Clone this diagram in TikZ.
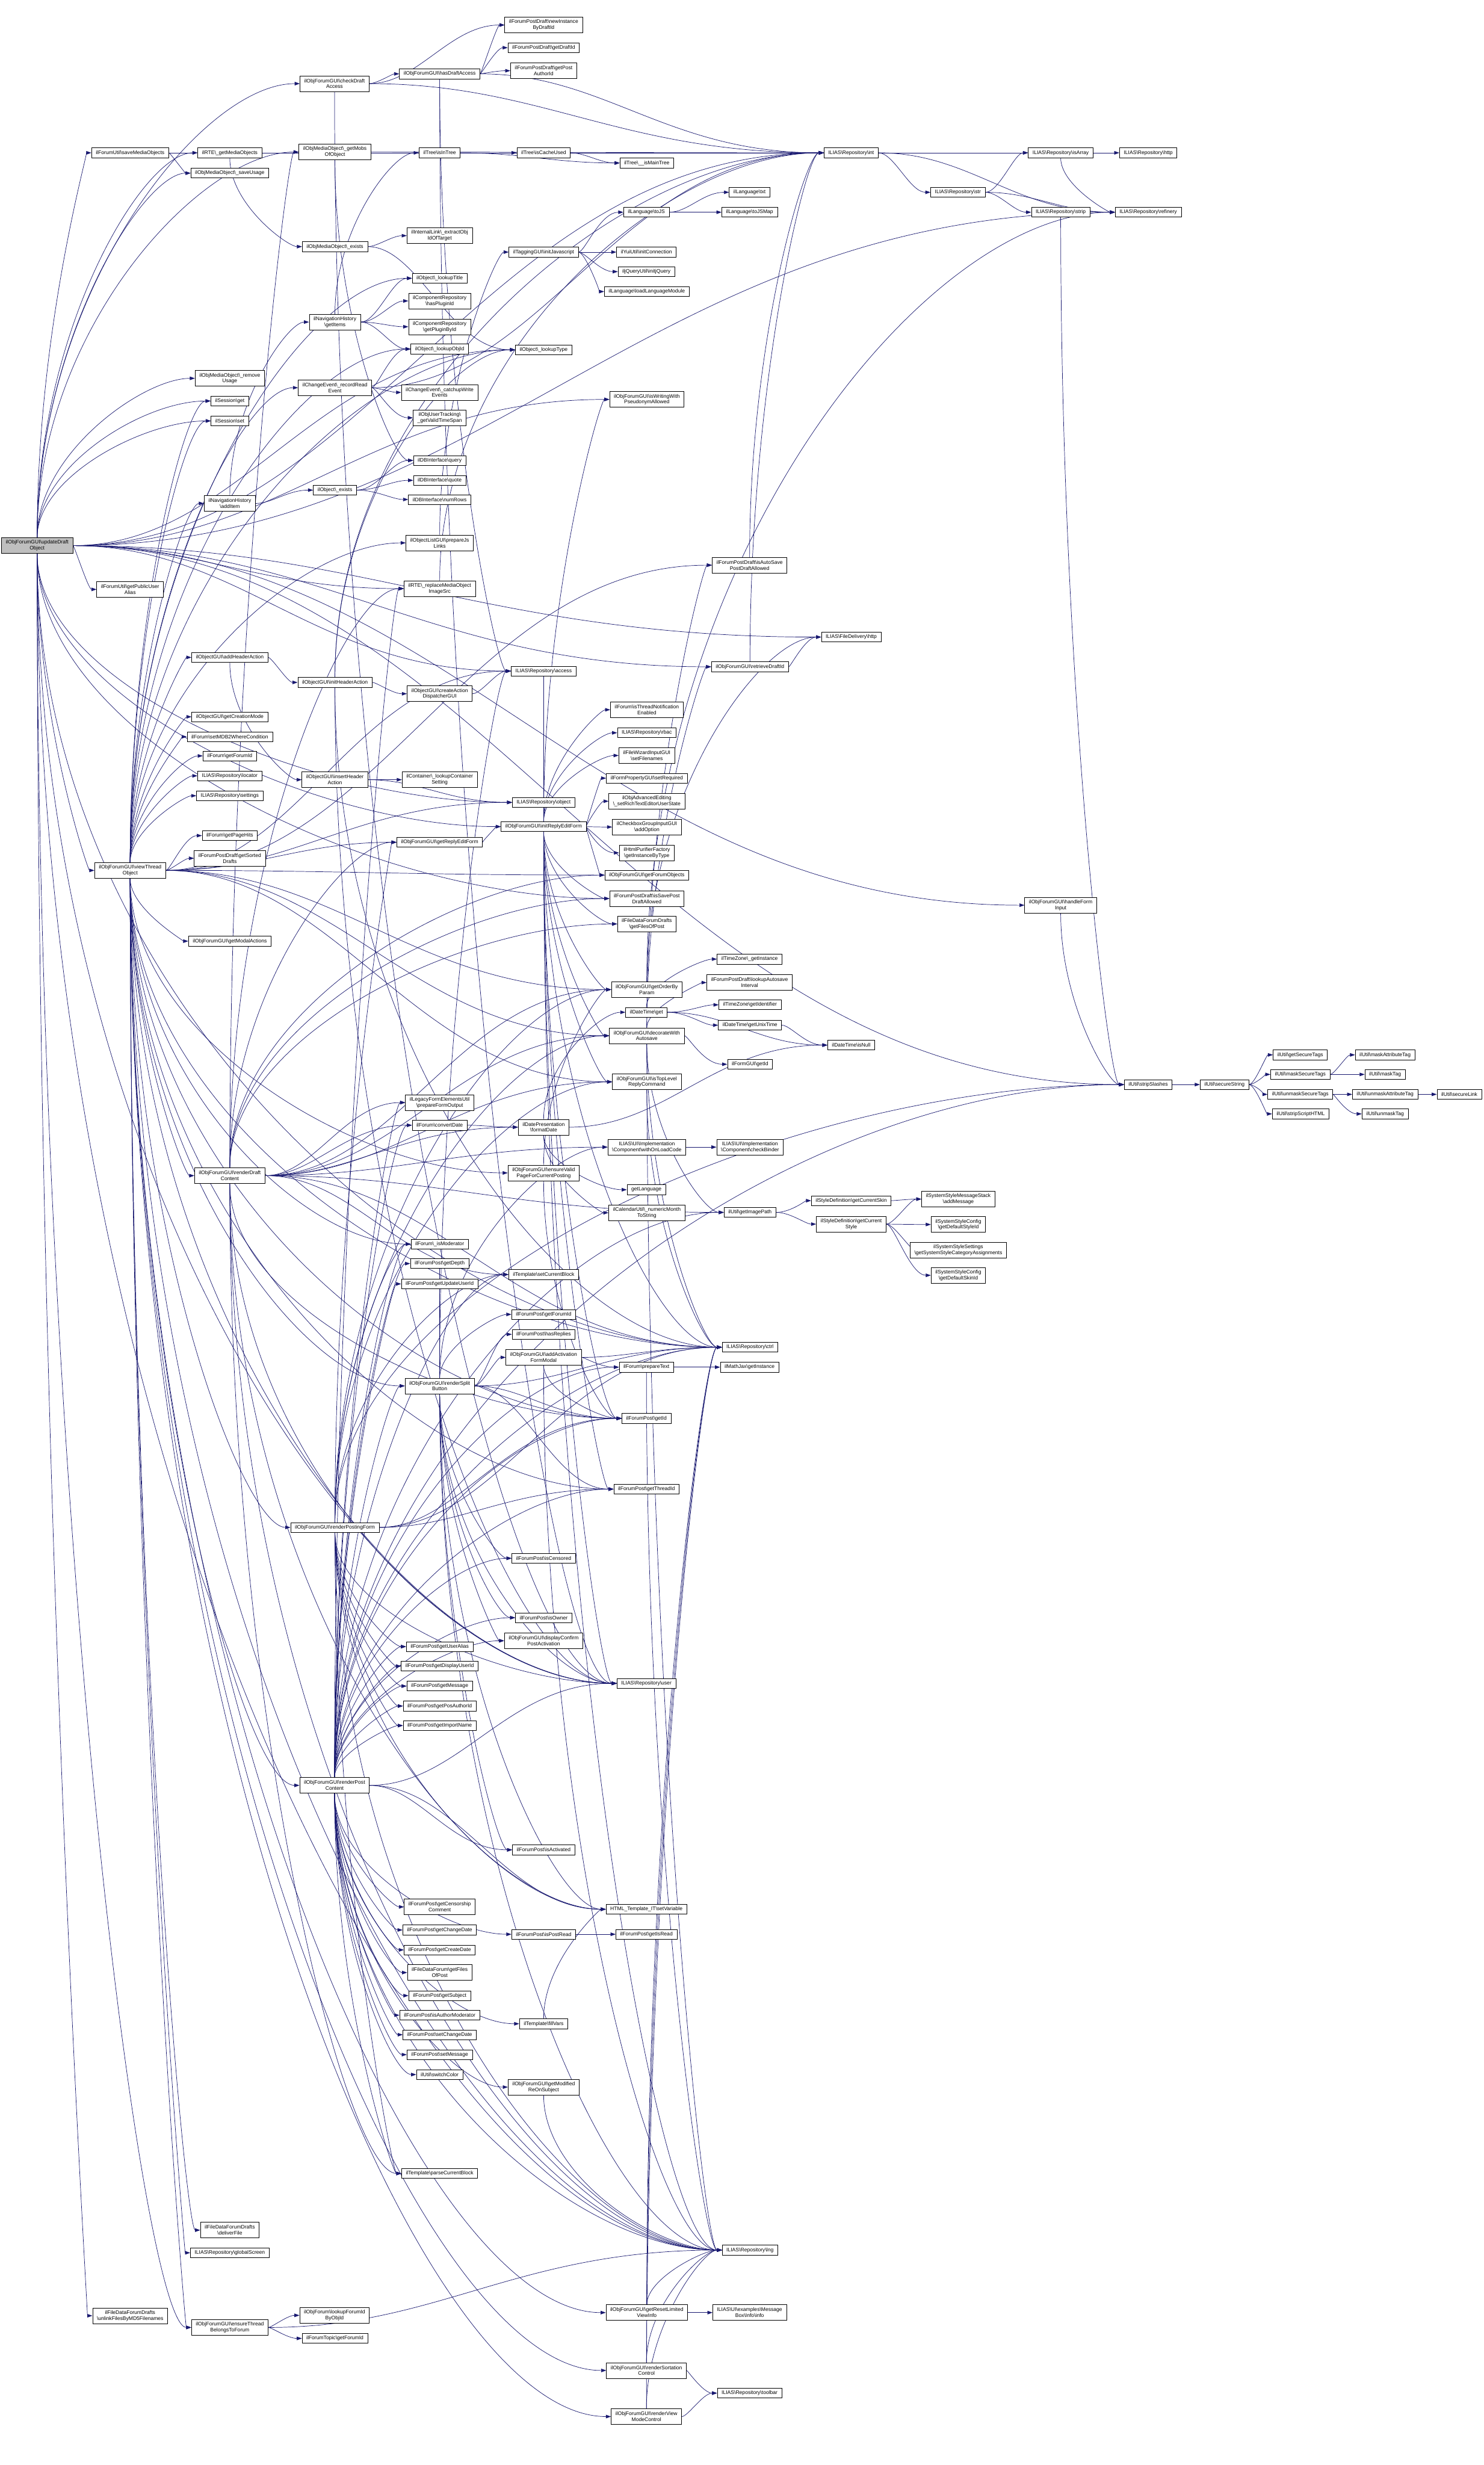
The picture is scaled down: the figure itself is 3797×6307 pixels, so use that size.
\documentclass[tikz,border=0pt]{standalone}
\usepackage{fontspec}
\setmainfont{Liberation Sans}
\usepackage{xcolor}
\usepackage{tikz}
\usetikzlibrary{arrows.meta, backgrounds, calc}
\definecolor{edgeblue}{HTML}{191970}
\definecolor{rootgray}{HTML}{BFBFBF}
\newcommand{\nsep}{\textbackslash}
\tikzset{
  func/.style={rectangle, draw, line width=1.1pt, fill=white, align=center,
               font=\fontsize{13.2}{15}\selectfont, inner xsep=11pt, inner ysep=2pt,
               minimum height=25pt},
  functwo/.style={func, minimum height=40pt},
  focus/.style={functwo, fill=rootgray},
  arr/.style={-{Triangle[length=13pt,width=9pt]}, draw=edgeblue, line width=1.1pt,
    to path={let \p1=(\tikztostart), \p2=(\tikztotarget),
      \n1={abs(\x2-\x1)}, \n2={abs(\y2-\y1)},
      \n3={(\n2>0.5*\n1) ? ((\y2<\y1) ? -90 : 90) : 0},
      \n4={(\n2>0.5*\n1) ? 0.55*\n2 : 0.4*\n1},
      \n5={0.45*\n1}
      in (\tikztostart) .. controls +(\n3:\n4) and +(180:\n5) .. (\tikztotarget)}},
}
\begin{document}
\begin{tikzpicture}[x=1pt, y=-1pt]
  \useasboundingbox (0,0) rectangle (3797,6307);
  % caller on the far left
  \node[focus] (root) at (95,1396) {ilObjForumGUI\nsep updateDraft\\Object};
  % rank 1
  \node[func]    (savemob)    at (333,391)  {ilForumUtil\nsep saveMediaObjects};
  \node[functwo] (pubalias)   at (333,1508) {ilForumUtil\nsep getPublicUser\\Alias};
  \node[functwo] (viewthread) at (333,2227) {ilObjForumGUI\nsep viewThread\\Object};
  \node[functwo] (unlink)     at (333,5925) {ilFileDataForumDrafts\\\nsep unlinkFilesByMD5Filenames};
  % rank 2
  \node[func]    (getmob)      at (588,391)  {ilRTE\nsep\_getMediaObjects};
  \node[func]    (saveusage)   at (588,443)  {ilObjMediaObject\nsep\_saveUsage};
  \node[functwo] (rmusage)     at (588,968)  {ilObjMediaObject\nsep\_remove\\Usage};
  \node[func]    (sessget)     at (588,1026) {ilSession\nsep get};
  \node[func]    (sessset)     at (588,1077) {ilSession\nsep set};
  \node[functwo] (navadd)      at (588,1288) {ilNavigationHistory\\\nsep addItem};
  \node[func]    (addheader)   at (588,1682) {ilObjectGUI\nsep addHeaderAction};
  \node[func]    (creation)    at (588,1834) {ilObjectGUI\nsep getCreationMode};
  \node[func]    (mdb2)        at (588,1885) {ilForum\nsep setMDB2WhereCondition};
  \node[func]    (forumid)     at (588,1934) {ilForum\nsep getForumId};
  \node[func]    (locator)     at (588,1985) {ILIAS\nsep Repository\nsep locator};
  \node[func]    (settings)    at (588,2036) {ILIAS\nsep Repository\nsep settings};
  \node[func]    (pagehits)    at (588,2138) {ilForum\nsep getPageHits};
  \node[functwo] (sorteddrafts) at (588,2196) {ilForumPostDraft\nsep getSorted\\Drafts};
  \node[func]    (modal)       at (588,2408) {ilObjForumGUI\nsep getModalActions};
  \node[functwo] (renderdraft) at (588,3008) {ilObjForumGUI\nsep renderDraft\\Content};
  \node[functwo] (deliver)     at (588,5706) {ilFileDataForumDrafts\\\nsep deliverFile};
  \node[func]    (gscreen)     at (588,5764) {ILIAS\nsep Repository\nsep globalScreen};
  \node[functwo] (ensurethread) at (588,5955) {ilObjForumGUI\nsep ensureThread\\BelongsToForum};
  % rank 3
  \node[functwo] (chkdraft)    at (856,214)  {ilObjForumGUI\nsep checkDraft\\Access};
  \node[functwo] (getmobs)     at (857,389)  {ilObjMediaObject\nsep\_getMobs\\OfObject};
  \node[func]    (mobexists)   at (857,631)  {ilObjMediaObject\nsep\_exists};
  \node[functwo] (navitems)    at (857,824)  {ilNavigationHistory\\\nsep getItems};
  \node[functwo] (recread)     at (857,992)  {ilChangeEvent\nsep\_recordRead\\Event};
  \node[func]    (objexists)   at (857,1254) {ilObject\nsep\_exists};
  \node[func]    (initheader)  at (857,1746) {ilObjectGUI\nsep initHeaderAction};
  \node[functwo] (inserthdr)   at (857,1995) {ilObjectGUI\nsep insertHeader\\Action};
  \node[func]    (postingform) at (857,3908) {ilObjForumGUI\nsep renderPostingForm};
  \node[functwo] (postcontent) at (856,4568) {ilObjForumGUI\nsep renderPost\\Content};
  \node[functwo] (lkforumid)   at (856,5924) {ilObjForum\nsep lookupForumId\\ByObjId};
  \node[func]    (topicforumid) at (857,5983) {ilForumTopic\nsep getForumId};
  % rank 4
  \node[func]    (hasdraft)    at (1125,189)  {ilObjForumGUI\nsep hasDraftAccess};
  \node[func]    (intree)      at (1125,391)  {ilTree\nsep isInTree};
  \node[functwo] (extractobj)  at (1125,603)  {ilInternalLink\nsep\_extractObj\\IdOfTarget};
  \node[func]    (lktitle)     at (1125,712)  {ilObject\nsep\_lookupTitle};
  \node[functwo] (hasplugin)   at (1125,770)  {ilComponentRepository\\\nsep hasPluginId};
  \node[functwo] (getplugin)   at (1125,836)  {ilComponentRepository\\\nsep getPluginById};
  \node[func]    (lkobjid)     at (1125,893)  {ilObject\nsep\_lookupObjId};
  \node[functwo] (catchup)     at (1125,1004) {ilChangeEvent\nsep\_catchupWrite\\Events};
  \node[functwo] (validts)     at (1125,1069) {ilObjUserTracking\nsep\\\_getValidTimeSpan};
  \node[func]    (dbquery)     at (1125,1178) {ilDBInterface\nsep query};
  \node[func]    (dbquote)     at (1125,1229) {ilDBInterface\nsep quote};
  \node[func]    (dbnumrows)   at (1125,1278) {ilDBInterface\nsep numRows};
  \node[functwo] (jslinks)     at (1125,1389) {ilObjectListGUI\nsep prepareJs\\Links};
  \node[functwo] (replmob)     at (1125,1506) {ilRTE\nsep\_replaceMediaObject\\ImageSrc};
  \node[functwo] (createdisp)  at (1125,1775) {ilObjectGUI\nsep createAction\\DispatcherGUI};
  \node[functwo] (lkcontainer) at (1125,1995) {ilContainer\nsep\_lookupContainer\\Setting};
  \node[func]    (replyform)   at (1125,2155) {ilObjForumGUI\nsep getReplyEditForm};
  \node[functwo] (prepform)    at (1125,2821) {ilLegacyFormElementsUtil\\\nsep prepareFormOutput};
  \node[func]    (convdate)    at (1125,2879) {ilForum\nsep convertDate};
  \node[func]    (ismod)       at (1125,3183) {ilForum\nsep\_isModerator};
  \node[func]    (getdepth)    at (1125,3233) {ilForumPost\nsep getDepth};
  \node[func]    (upduser)     at (1125,3285) {ilForumPost\nsep getUpdateUserId};
  \node[functwo] (splitbtn)    at (1125,3546) {ilObjForumGUI\nsep renderSplit\\Button};
  \node[func]    (useralias)   at (1125,4213) {ilForumPost\nsep getUserAlias};
  \node[func]    (dispuser)    at (1125,4263) {ilForumPost\nsep getDisplayUserId};
  \node[func]    (getmsg)      at (1125,4314) {ilForumPost\nsep getMessage};
  \node[func]    (posauthor)   at (1125,4365) {ilForumPost\nsep getPosAuthorId};
  \node[func]    (importname)  at (1125,4415) {ilForumPost\nsep getImportName};
  \node[functwo] (censcomment) at (1125,4879) {ilForumPost\nsep getCensorship\\Comment};
  \node[func]    (chgdate)     at (1125,4938) {ilForumPost\nsep getChangeDate};
  \node[func]    (createdate)  at (1125,4989) {ilForumPost\nsep getCreateDate};
  \node[functwo] (filesofpost) at (1125,5047) {ilFileDataForum\nsep getFiles\\OfPost};
  \node[func]    (subject)     at (1125,5106) {ilForumPost\nsep getSubject};
  \node[func]    (authormod)   at (1125,5156) {ilForumPost\nsep isAuthorModerator};
  \node[func]    (setchgdate)  at (1125,5206) {ilForumPost\nsep setChangeDate};
  \node[func]    (setmsg)      at (1125,5257) {ilForumPost\nsep setMessage};
  \node[func]    (switchcolor) at (1125,5308) {ilUtil\nsep switchColor};
  \node[func]    (parseblock)  at (1125,5561) {ilTemplate\nsep parseCurrentBlock};
  % rank 5
  \node[functwo] (newinst)     at (1391,64)   {ilForumPostDraft\nsep newInstance\\ByDraftId};
  \node[func]    (getdraftid)  at (1391,122)  {ilForumPostDraft\nsep getDraftId};
  \node[functwo] (getauthor)   at (1391,181)  {ilForumPostDraft\nsep getPost\\AuthorId};
  \node[func]    (cacheused)   at (1391,391)  {ilTree\nsep isCacheUsed};
  \node[func]    (initjs)      at (1391,645)  {ilTaggingGUI\nsep initJavascript};
  \node[func]    (lktype)      at (1391,895)  {ilObject\nsep\_lookupType};
  \node[func]    (raccess)     at (1391,1717) {ILIAS\nsep Repository\nsep access};
  \node[func]    (robject)     at (1391,2053) {ILIAS\nsep Repository\nsep object};
  \node[func]    (initreply)   at (1391,2115) {ilObjForumGUI\nsep initReplyEditForm};
  \node[functwo] (fmtdate)     at (1391,2884) {ilDatePresentation\\\nsep formatDate};
  \node[functwo] (validpage)   at (1391,3001) {ilObjForumGUI\nsep ensureValid\\PageForCurrentPosting};
  \node[func]    (setblock)    at (1391,3261) {ilTemplate\nsep setCurrentBlock};
  \node[func]    (postforumid) at (1391,3363) {ilForumPost\nsep getForumId};
  \node[func]    (hasreplies)  at (1391,3414) {ilForumPost\nsep hasReplies};
  \node[functwo] (activmodal)  at (1391,3473) {ilObjForumGUI\nsep addActivation\\FormModal};
  \node[func]    (censored)    at (1391,3987) {ilForumPost\nsep isCensored};
  \node[func]    (isowner)     at (1391,4139) {ilForumPost\nsep isOwner};
  \node[functwo] (confirmact)  at (1391,4198) {ilObjForumGUI\nsep displayConfirm\\PostActivation};
  \node[func]    (isactivated) at (1391,4733) {ilForumPost\nsep isActivated};
  \node[func]    (postread)    at (1391,4949) {ilForumPost\nsep isPostRead};
  \node[func]    (fillvars)    at (1391,5178) {ilTemplate\nsep fillVars};
  \node[functwo] (modsubject)  at (1391,5340) {ilObjForumGUI\nsep getModified\\ReOnSubject};
  % rank 6
  \node[func]    (maintree)    at (1655,417)  {ilTree\nsep\_\_isMainTree};
  \node[func]    (tojs)        at (1654,543)  {ilLanguage\nsep toJS};
  \node[func]    (yui)         at (1654,645)  {ilYuiUtil\nsep initConnection};
  \node[func]    (jquery)      at (1654,695)  {iljQueryUtil\nsep initjQuery};
  \node[func]    (loadlang)    at (1655,746)  {ilLanguage\nsep loadLanguageModule};
  \node[functwo] (pseudo)      at (1655,1022) {ilObjForumGUI\nsep isWritingWith\\PseudonymAllowed};
  \node[functwo] (notif)       at (1655,1816) {ilForum\nsep isThreadNotification\\Enabled};
  \node[func]    (rbac)        at (1655,1875) {ILIAS\nsep Repository\nsep rbac};
  \node[functwo] (setfiles)    at (1655,1933) {ilFileWizardInputGUI\\\nsep setFilenames};
  \node[func]    (setreq)      at (1655,1991) {ilFormPropertyGUI\nsep setRequired};
  \node[functwo] (richtext)    at (1655,2050) {ilObjAdvancedEditing\\\nsep\_setRichTextEditorUserState};
  \node[functwo] (addoption)   at (1655,2116) {ilCheckboxGroupInputGUI\\\nsep addOption};
  \node[functwo] (purifier)    at (1655,2182) {ilHtmlPurifierFactory\\\nsep getInstanceByType};
  \node[func]    (forumobjs)   at (1655,2239) {ilObjForumGUI\nsep getForumObjects};
  \node[functwo] (saveallowed) at (1655,2299) {ilForumPostDraft\nsep isSavePost\\DraftAllowed};
  \node[functwo] (draftfiles)  at (1655,2364) {ilFileDataForumDrafts\\\nsep getFilesOfPost};
  \node[functwo] (orderby)     at (1655,2532) {ilObjForumGUI\nsep getOrderBy\\Param};
  \node[func]    (dtget)       at (1654,2590) {ilDateTime\nsep get};
  \node[functwo] (decorate)    at (1655,2650) {ilObjForumGUI\nsep decorateWith\\Autosave};
  \node[functwo] (toplevel)    at (1655,2768) {ilObjForumGUI\nsep isTopLevel\\ReplyCommand};
  \node[functwo] (onload)      at (1655,2935) {ILIAS\nsep UI\nsep Implementation\\\nsep Component\nsep withOnLoadCode};
  \node[func]    (getlang)     at (1654,3044) {getLanguage};
  \node[functwo] (monthstr)    at (1655,3103) {ilCalendarUtil\nsep\_numericMonth\\ToString};
  \node[func]    (preptext)    at (1654,3498) {ilForum\nsep prepareText};
  \node[func]    (postid)      at (1654,3629) {ilForumPost\nsep getId};
  \node[func]    (threadid)    at (1654,3810) {ilForumPost\nsep getThreadId};
  \node[func]    (ruser)       at (1654,4307) {ILIAS\nsep Repository\nsep user};
  \node[func]    (setvar)      at (1654,4885) {HTML\_Template\_IT\nsep setVariable};
  \node[func]    (isread)      at (1654,4949) {ilForumPost\nsep getIsRead};
  \node[functwo] (resetinfo)   at (1655,5917) {ilObjForumGUI\nsep getResetLimited\\ViewInfo};
  \node[functwo] (sortation)   at (1654,6065) {ilObjForumGUI\nsep renderSortation\\Control};
  \node[functwo] (viewmode)    at (1654,6183) {ilObjForumGUI\nsep renderView\\ModeControl};
  % rank 7
  \node[func]    (langtxt)     at (1918,492)  {ilLanguage\nsep txt};
  \node[func]    (tojsmap)     at (1918,543)  {ilLanguage\nsep toJSMap};
  \node[functwo] (autosave)    at (1918,1446) {ilForumPostDraft\nsep isAutoSave\\PostDraftAllowed};
  \node[func]    (retrieve)    at (1919,1706) {ilObjForumGUI\nsep retrieveDraftId};
  \node[func]    (tzinst)      at (1918,2454) {ilTimeZone\nsep\_getInstance};
  \node[functwo] (autosaveint) at (1918,2514) {ilForumPostDraft\nsep lookupAutosave\\Interval};
  \node[func]    (tzident)     at (1919,2571) {ilTimeZone\nsep getIdentifier};
  \node[func]    (unixtime)    at (1919,2623) {ilDateTime\nsep getUnixTime};
  \node[func]    (formid)      at (1919,2723) {ilFormGUI\nsep getId};
  \node[functwo] (binder)      at (1919,2935) {ILIAS\nsep UI\nsep Implementation\\\nsep Component\nsep checkBinder};
  \node[func]    (imgpath)     at (1919,3102) {ilUtil\nsep getImagePath};
  \node[func]    (rctrl)       at (1919,3447) {ILIAS\nsep Repository\nsep ctrl};
  \node[func]    (mathjax)     at (1918,3498) {ilMathJax\nsep getInstance};
  \node[func]    (rlng)        at (1919,5757) {ILIAS\nsep Repository\nsep lng};
  \node[functwo] (msgbox)      at (1918,5917) {ILIAS\nsep UI\nsep examples\nsep Message\\Box\nsep Info\nsep info};
  \node[func]    (rtoolbar)    at (1918,6123) {ILIAS\nsep Repository\nsep toolbar};
  % rank 8 and beyond
  \node[func]    (rint)        at (2178,391)  {ILIAS\nsep Repository\nsep int};
  \node[func]    (fdhttp)      at (2178,1630) {ILIAS\nsep FileDelivery\nsep http};
  \node[func]    (isnull)      at (2178,2674) {ilDateTime\nsep isNull};
  \node[func]    (curskin)     at (2178,3072) {ilStyleDefinition\nsep getCurrentSkin};
  \node[functwo] (curstyle)    at (2178,3132) {ilStyleDefinition\nsep getCurrent\\Style};
  \node[func]    (rstr)        at (2451,492)  {ILIAS\nsep Repository\nsep str};
  \node[functwo] (addmsg)      at (2452,3068) {ilSystemStyleMessageStack\\\nsep addMessage};
  \node[functwo] (defstyle)    at (2452,3133) {ilSystemStyleConfig\\\nsep getDefaultStyleId};
  \node[functwo] (stylecat)    at (2452,3198) {ilSystemStyleSettings\\\nsep getSystemStyleCategoryAssignments};
  \node[functwo] (defskin)     at (2452,3263) {ilSystemStyleConfig\\\nsep getDefaultSkinId};
  \node[func]    (risarray)    at (2714,391)  {ILIAS\nsep Repository\nsep isArray};
  \node[func]    (rstrip)      at (2714,543)  {ILIAS\nsep Repository\nsep strip};
  \node[functwo] (handleform)  at (2714,2316) {ilObjForumGUI\nsep handleForm\\Input};
  \node[func]    (rhttp)       at (2938,391)  {ILIAS\nsep Repository\nsep http};
  \node[func]    (rrefinery)   at (2938,543)  {ILIAS\nsep Repository\nsep refinery};
  \node[func]    (stripsl)     at (2938,2775) {ilUtil\nsep stripSlashes};
  \node[func]    (securestr)   at (3133,2775) {ilUtil\nsep secureString};
  \node[func]    (getsectags)  at (3327,2699) {ilUtil\nsep getSecureTags};
  \node[func]    (masksec)     at (3327,2749) {ilUtil\nsep maskSecureTags};
  \node[func]    (unmasksec)   at (3327,2800) {ilUtil\nsep unmaskSecureTags};
  \node[func]    (stripscript) at (3328,2850) {ilUtil\nsep stripScriptHTML};
  \node[func]    (maskattr)    at (3544,2699) {ilUtil\nsep maskAttributeTag};
  \node[func]    (masktag)     at (3544,2749) {ilUtil\nsep maskTag};
  \node[func]    (unmaskattr)  at (3544,2800) {ilUtil\nsep unmaskAttributeTag};
  \node[func]    (unmasktag)   at (3544,2850) {ilUtil\nsep unmaskTag};
  \node[func]    (securelink)  at (3734,2800) {ilUtil\nsep secureLink};

  \begin{scope}[on background layer]
  % calls made by updateDraft
  \draw[arr] (root) to (chkdraft); \draw[arr] (root) to (savemob); \draw[arr] (root) to (saveusage);
  \draw[arr] (root) to (getmobs); \draw[arr] (root) to (getmob); \draw[arr] (root) to (rmusage);
  \draw[arr] (root) to (sessget); \draw[arr] (root) to (sessset); \draw[arr] (root) to (pubalias);
  \draw[arr] (root) to (viewthread); \draw[arr] (root) to (unlink); \draw[arr] (root) to (lktype);
  \draw[arr] (root) to (pseudo); \draw[arr] (root) to (retrieve); \draw[arr] (root) to (replmob);
  \draw[arr] (root) to (handleform); \draw[arr] (root) to (rrefinery); \draw[arr] (root) to (stripsl);
  \draw[arr] (root) to (initreply); \draw[arr] (root) to (ensurethread); \draw[arr] (root) to (raccess);
  \draw[arr] (root) to (robject); \draw[arr] (root) to (rctrl); \draw[arr] (root) to (rlng);
  \draw[arr] (root) to (ruser); \draw[arr] (root) to (saveallowed); \draw[arr] (root) to (rint);
  \draw[arr] (root) to (fdhttp);
  % drafts and media objects
  \draw[arr] (chkdraft) to (hasdraft); \draw[arr] (chkdraft) to (newinst); \draw[arr] (chkdraft) to (ruser);
  \draw[arr] (chkdraft) to (rint);
  \draw[arr] (hasdraft) to (newinst); \draw[arr] (hasdraft) to (getdraftid); \draw[arr] (hasdraft) to (getauthor);
  \draw[arr] (hasdraft) to (ruser); \draw[arr] (hasdraft) to (raccess); \draw[arr] (hasdraft) to (rint);
  \draw[arr] (savemob) to (getmob); \draw[arr] (savemob) to (saveusage);
  \draw[arr] (getmob) to (mobexists); \draw[arr] (getmob) to (rint);
  \draw[arr] (getmobs) to (rint); \draw[arr] (getmobs) to (dbquery);
  \draw[arr] (mobexists) to (extractobj); \draw[arr] (mobexists) to (lktype);
  \draw[arr] (replmob) to (rint);
  % navigation history and read events
  \draw[arr] (intree) to (cacheused); \draw[arr] (intree) to (maintree); \draw[arr] (cacheused) to (maintree);
  \draw[arr] (navitems) to (intree); \draw[arr] (navitems) to (lktitle); \draw[arr] (navitems) to (hasplugin);
  \draw[arr] (navitems) to (getplugin); \draw[arr] (navitems) to (lkobjid);
  \draw[arr] (recread) to (lkobjid); \draw[arr] (recread) to (catchup); \draw[arr] (recread) to (validts);
  \draw[arr] (recread) to (rint);
  \draw[arr] (objexists) to (dbquery); \draw[arr] (objexists) to (dbquote); \draw[arr] (objexists) to (dbnumrows);
  \draw[arr] (navadd) to (objexists); \draw[arr] (navadd) to (navitems);
  \draw[arr] (jslinks) to (initjs);
  \draw[arr] (initjs) to (tojs); \draw[arr] (initjs) to (yui); \draw[arr] (initjs) to (jquery);
  \draw[arr] (initjs) to (loadlang);
  \draw[arr] (tojs) to (langtxt); \draw[arr] (tojs) to (tojsmap);
  % repository helpers
  \draw[arr] (rint) to (risarray); \draw[arr] (rint) to (rstr); \draw[arr] (rint) to (rrefinery);
  \draw[arr] (rstr) to (risarray); \draw[arr] (rstr) to (rstrip); \draw[arr] (rstr) to (rrefinery);
  \draw[arr] (risarray) to (rhttp); \draw[arr] (risarray) to (rrefinery);
  \draw[arr] (rstrip) to (stripsl); \draw[arr] (autosave) to (rint);
  % thread view
  \draw[arr] (viewthread) to (addheader); \draw[arr] (viewthread) to (creation); \draw[arr] (viewthread) to (mdb2);
  \draw[arr] (viewthread) to (forumid); \draw[arr] (viewthread) to (locator); \draw[arr] (viewthread) to (settings);
  \draw[arr] (viewthread) to (pagehits); \draw[arr] (viewthread) to (sorteddrafts); \draw[arr] (viewthread) to (modal);
  \draw[arr] (viewthread) to (renderdraft); \draw[arr] (viewthread) to (deliver); \draw[arr] (viewthread) to (gscreen);
  \draw[arr] (viewthread) to (ensurethread); \draw[arr] (viewthread) to (replyform); \draw[arr] (viewthread) to (navadd);
  \draw[arr] (viewthread) to (recread); \draw[arr] (viewthread) to (sessget); \draw[arr] (viewthread) to (sessset);
  \draw[arr] (viewthread) to (jslinks); \draw[arr] (viewthread) to (postingform); \draw[arr] (viewthread) to (postcontent);
  \draw[arr] (viewthread) to (splitbtn); \draw[arr] (viewthread) to (sortation); \draw[arr] (viewthread) to (viewmode);
  \draw[arr] (viewthread) to (resetinfo); \draw[arr] (viewthread) to (orderby); \draw[arr] (viewthread) to (toplevel);
  \draw[arr] (viewthread) to (validpage); \draw[arr] (viewthread) to (forumobjs); \draw[arr] (viewthread) to (raccess);
  \draw[arr] (viewthread) to (robject); \draw[arr] (viewthread) to (rctrl); \draw[arr] (viewthread) to (rlng);
  \draw[arr] (viewthread) to (ruser); \draw[arr] (viewthread) to (lktitle); \draw[arr] (viewthread) to (lkobjid);
  \draw[arr] (viewthread) to (lktype); \draw[arr] (viewthread) to (decorate); \draw[arr] (viewthread) to (autosave);
  \draw[arr] (viewthread) to (threadid); \draw[arr] (viewthread) to (postid); \draw[arr] (viewthread) to (ismod);
  % header actions
  \draw[arr] (addheader) to (initheader); \draw[arr] (addheader) to (inserthdr);
  \draw[arr] (initheader) to (createdisp); \draw[arr] (initheader) to (lktype); \draw[arr] (initheader) to (rctrl);
  \draw[arr] (initheader) to (ruser); \draw[arr] (initheader) to (rint);
  \draw[arr] (createdisp) to (raccess);
  \draw[arr] (inserthdr) to (lkcontainer); \draw[arr] (inserthdr) to (robject);
  % reply form
  \draw[arr] (replyform) to (initreply);
  \draw[arr] (initreply) to (notif); \draw[arr] (initreply) to (rbac); \draw[arr] (initreply) to (setfiles);
  \draw[arr] (initreply) to (setreq); \draw[arr] (initreply) to (richtext); \draw[arr] (initreply) to (addoption);
  \draw[arr] (initreply) to (purifier); \draw[arr] (initreply) to (forumobjs); \draw[arr] (initreply) to (saveallowed);
  \draw[arr] (initreply) to (draftfiles); \draw[arr] (initreply) to (robject); \draw[arr] (initreply) to (raccess);
  \draw[arr] (initreply) to (orderby); \draw[arr] (initreply) to (decorate); \draw[arr] (initreply) to (toplevel);
  \draw[arr] (initreply) to (pseudo); \draw[arr] (initreply) to (rctrl); \draw[arr] (initreply) to (rlng);
  \draw[arr] (initreply) to (ruser); \draw[arr] (initreply) to (postid); \draw[arr] (initreply) to (threadid);
  \draw[arr] (decorate) to (autosave); \draw[arr] (decorate) to (autosaveint); \draw[arr] (decorate) to (retrieve);
  \draw[arr] (decorate) to (formid); \draw[arr] (decorate) to (imgpath); \draw[arr] (decorate) to (rctrl);
  \draw[arr] (decorate) to (rlng);
  \draw[arr] (orderby) to (fdhttp); \draw[arr] (orderby) to (rrefinery);
  \draw[arr] (retrieve) to (fdhttp); \draw[arr] (retrieve) to (rint);
  \draw[arr] (toplevel) to (rctrl);
  % draft content
  \draw[arr] (renderdraft) to (prepform); \draw[arr] (renderdraft) to (convdate); \draw[arr] (renderdraft) to (fmtdate);
  \draw[arr] (renderdraft) to (replyform); \draw[arr] (renderdraft) to (orderby); \draw[arr] (renderdraft) to (draftfiles);
  \draw[arr] (renderdraft) to (setblock); \draw[arr] (renderdraft) to (parseblock); \draw[arr] (renderdraft) to (setvar);
  \draw[arr] (renderdraft) to (postid); \draw[arr] (renderdraft) to (rctrl); \draw[arr] (renderdraft) to (rlng);
  \draw[arr] (renderdraft) to (ruser); \draw[arr] (renderdraft) to (toplevel); \draw[arr] (renderdraft) to (imgpath);
  \draw[arr] (renderdraft) to (forumobjs); \draw[arr] (renderdraft) to (saveallowed); \draw[arr] (renderdraft) to (onload);
  \draw[arr] (renderdraft) to (replmob); \draw[arr] (renderdraft) to (getmobs); \draw[arr] (renderdraft) to (decorate);
  % dates and styles
  \draw[arr] (convdate) to (fmtdate);
  \draw[arr] (fmtdate) to (dtget); \draw[arr] (fmtdate) to (getlang); \draw[arr] (fmtdate) to (monthstr);
  \draw[arr] (fmtdate) to (isnull);
  \draw[arr] (dtget) to (tzinst); \draw[arr] (dtget) to (tzident); \draw[arr] (dtget) to (unixtime);
  \draw[arr] (dtget) to (isnull); \draw[arr] (unixtime) to (isnull);
  \draw[arr] (onload) to (binder);
  \draw[arr] (validpage) to (orderby); \draw[arr] (validpage) to (postid);
  \draw[arr] (imgpath) to (curskin); \draw[arr] (imgpath) to (curstyle);
  \draw[arr] (curskin) to (addmsg);
  \draw[arr] (curstyle) to (addmsg); \draw[arr] (curstyle) to (defstyle); \draw[arr] (curstyle) to (stylecat);
  \draw[arr] (curstyle) to (defskin);
  % input cleaning
  \draw[arr] (handleform) to (stripsl); \draw[arr] (stripsl) to (securestr);
  \draw[arr] (securestr) to (getsectags); \draw[arr] (securestr) to (masksec); \draw[arr] (securestr) to (unmasksec);
  \draw[arr] (securestr) to (stripscript);
  \draw[arr] (masksec) to (maskattr); \draw[arr] (masksec) to (masktag);
  \draw[arr] (unmasksec) to (unmaskattr); \draw[arr] (unmasksec) to (unmasktag);
  \draw[arr] (unmaskattr) to (securelink);
  % posting form
  \draw[arr] (postingform) to (replyform); \draw[arr] (postingform) to (toplevel); \draw[arr] (postingform) to (decorate);
  \draw[arr] (postingform) to (orderby); \draw[arr] (postingform) to (setblock); \draw[arr] (postingform) to (setvar);
  \draw[arr] (postingform) to (parseblock); \draw[arr] (postingform) to (rctrl); \draw[arr] (postingform) to (rlng);
  \draw[arr] (postingform) to (ruser); \draw[arr] (postingform) to (postid); \draw[arr] (postingform) to (threadid);
  \draw[arr] (postingform) to (useralias); \draw[arr] (postingform) to (dispuser); \draw[arr] (postingform) to (getmsg);
  \draw[arr] (postingform) to (posauthor); \draw[arr] (postingform) to (importname); \draw[arr] (postingform) to (ismod);
  \draw[arr] (postingform) to (stripsl);
  % post content
  \draw[arr] (postcontent) to (censcomment); \draw[arr] (postcontent) to (chgdate); \draw[arr] (postcontent) to (createdate);
  \draw[arr] (postcontent) to (filesofpost); \draw[arr] (postcontent) to (subject); \draw[arr] (postcontent) to (authormod);
  \draw[arr] (postcontent) to (setchgdate); \draw[arr] (postcontent) to (setmsg); \draw[arr] (postcontent) to (switchcolor);
  \draw[arr] (postcontent) to (parseblock); \draw[arr] (postcontent) to (setblock); \draw[arr] (postcontent) to (setvar);
  \draw[arr] (postcontent) to (useralias); \draw[arr] (postcontent) to (dispuser); \draw[arr] (postcontent) to (getmsg);
  \draw[arr] (postcontent) to (posauthor); \draw[arr] (postcontent) to (importname); \draw[arr] (postcontent) to (splitbtn);
  \draw[arr] (postcontent) to (ismod); \draw[arr] (postcontent) to (getdepth); \draw[arr] (postcontent) to (upduser);
  \draw[arr] (postcontent) to (postid); \draw[arr] (postcontent) to (threadid); \draw[arr] (postcontent) to (censored);
  \draw[arr] (postcontent) to (isowner); \draw[arr] (postcontent) to (confirmact); \draw[arr] (postcontent) to (isactivated);
  \draw[arr] (postcontent) to (postread); \draw[arr] (postcontent) to (fillvars); \draw[arr] (postcontent) to (modsubject);
  \draw[arr] (postcontent) to (preptext); \draw[arr] (postcontent) to (convdate); \draw[arr] (postcontent) to (prepform);
  \draw[arr] (postcontent) to (rctrl); \draw[arr] (postcontent) to (rlng); \draw[arr] (postcontent) to (ruser);
  \draw[arr] (postcontent) to (imgpath); \draw[arr] (postcontent) to (replmob); \draw[arr] (postcontent) to (stripsl);
  % split button
  \draw[arr] (splitbtn) to (postid); \draw[arr] (splitbtn) to (threadid); \draw[arr] (splitbtn) to (hasreplies);
  \draw[arr] (splitbtn) to (postforumid); \draw[arr] (splitbtn) to (activmodal); \draw[arr] (splitbtn) to (censored);
  \draw[arr] (splitbtn) to (isowner); \draw[arr] (splitbtn) to (confirmact); \draw[arr] (splitbtn) to (isactivated);
  \draw[arr] (splitbtn) to (rctrl); \draw[arr] (splitbtn) to (rlng); \draw[arr] (splitbtn) to (ruser);
  \draw[arr] (splitbtn) to (raccess); \draw[arr] (splitbtn) to (setvar); \draw[arr] (splitbtn) to (onload);
  \draw[arr] (splitbtn) to (getdepth);
  \draw[arr] (activmodal) to (rctrl); \draw[arr] (activmodal) to (preptext); \draw[arr] (activmodal) to (postid);
  \draw[arr] (activmodal) to (rlng);
  \draw[arr] (preptext) to (mathjax); \draw[arr] (preptext) to (rlng);
  \draw[arr] (postread) to (isread); \draw[arr] (fillvars) to (setvar); \draw[arr] (modsubject) to (rlng);
  % controls at the bottom
  \draw[arr] (resetinfo) to (msgbox); \draw[arr] (resetinfo) to (rlng); \draw[arr] (resetinfo) to (rctrl);
  \draw[arr] (sortation) to (rlng); \draw[arr] (sortation) to (rtoolbar); \draw[arr] (sortation) to (rctrl);
  \draw[arr] (viewmode) to (rtoolbar); \draw[arr] (viewmode) to (rlng); \draw[arr] (viewmode) to (rctrl);
  \draw[arr] (ensurethread) to (lkforumid); \draw[arr] (ensurethread) to (topicforumid); \draw[arr] (ensurethread) to (rlng);
  \end{scope}
\end{tikzpicture}
\end{document}
